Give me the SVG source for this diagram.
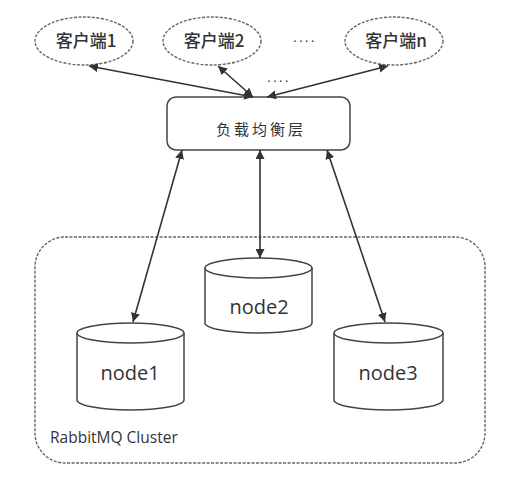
<svg xmlns="http://www.w3.org/2000/svg" width="523" height="478" viewBox="0 0 523 478">
<style>
.client{fill:#fff;stroke:#666;stroke-width:1.4;stroke-dasharray:3 1.5}
.ct{font-family:"Noto Sans CJK SC","Liberation Sans",sans-serif;font-size:17px;font-weight:500;fill:#333;text-anchor:middle}
.cyl{fill:#fff;stroke:#444;stroke-width:1.5}
.nt{font-family:"Open Sans","Liberation Sans",sans-serif;font-size:20px;fill:#333;text-anchor:middle}
.conn{stroke:#333;stroke-width:1.6;fill:none;marker-start:url(#ah);marker-end:url(#ah)}
.dots{font-family:"Liberation Sans",sans-serif;font-size:14px;fill:#333;letter-spacing:2px}
</style>
<defs>
<marker id="ah" viewBox="0 0 10 10" refX="10" refY="5" markerWidth="9" markerHeight="9" markerUnits="userSpaceOnUse" orient="auto-start-reverse">
<path d="M0,0 L10,5 L0,10 Z" fill="#333"/>
</marker>
</defs>
<rect width="523" height="478" fill="#fff"/>
<g id="cluster">
<rect x="35" y="237" width="450" height="226" rx="30" ry="30" fill="none" stroke="#666" stroke-width="1.4" stroke-dasharray="3 1.5"/>
<text x="50" y="443" font-family="Open Sans,Liberation Sans,sans-serif" font-size="15.5" fill="#333">RabbitMQ Cluster</text>
</g>
<g id="client1">
<ellipse class="client" cx="84" cy="41" rx="49" ry="24"/>
<text class="ct" x="86" y="47">客户端1</text>
</g>
<g id="client2">
<ellipse class="client" cx="212" cy="41" rx="49" ry="24"/>
<text class="ct" x="214" y="47">客户端2</text>
</g>
<g id="clientn">
<ellipse class="client" cx="394" cy="41" rx="49" ry="24"/>
<text class="ct" x="396" y="47">客户端n</text>
</g>
<text class="dots" x="293" y="42">....</text>
<text class="dots" x="267" y="82">....</text>
<g id="lb">
<rect x="167" y="97" width="183" height="53" rx="9" ry="9" fill="#fff" stroke="#444" stroke-width="1.5"/>
<text x="261" y="135" font-family="Noto Sans CJK SC,sans-serif" font-size="15" fill="#333" text-anchor="middle" letter-spacing="3">负载均衡层</text>
</g>
<g id="node2">
<path class="cyl" d="M205,268 L205,323 A53.5,10 0 0 0 312,323 L312,268"/>
<ellipse class="cyl" cx="258.5" cy="268" rx="53.5" ry="10"/>
<text class="nt" x="259" y="314">node2</text>
</g>
<g id="node1">
<path class="cyl" d="M77,333 L77,400 A53.5,10 0 0 0 184,400 L184,333"/>
<ellipse class="cyl" cx="130.5" cy="333" rx="53.5" ry="10"/>
<text class="nt" x="130" y="380">node1</text>
</g>
<g id="node3">
<path class="cyl" d="M334,333 L334,400 A54.5,10 0 0 0 443,400 L443,333"/>
<ellipse class="cyl" cx="388.5" cy="333" rx="54.5" ry="10"/>
<text class="nt" x="388" y="380">node3</text>
</g>
<g id="connectors">
<line class="conn" x1="253" y1="97" x2="89" y2="66"/>
<line class="conn" x1="253" y1="97" x2="218" y2="66"/>
<line class="conn" x1="267" y1="97" x2="388" y2="66"/>
<line class="conn" x1="182" y1="150" x2="133" y2="322"/>
<line class="conn" x1="260" y1="150" x2="260" y2="258"/>
<line class="conn" x1="327" y1="150" x2="385" y2="322"/>
</g>
</svg>
